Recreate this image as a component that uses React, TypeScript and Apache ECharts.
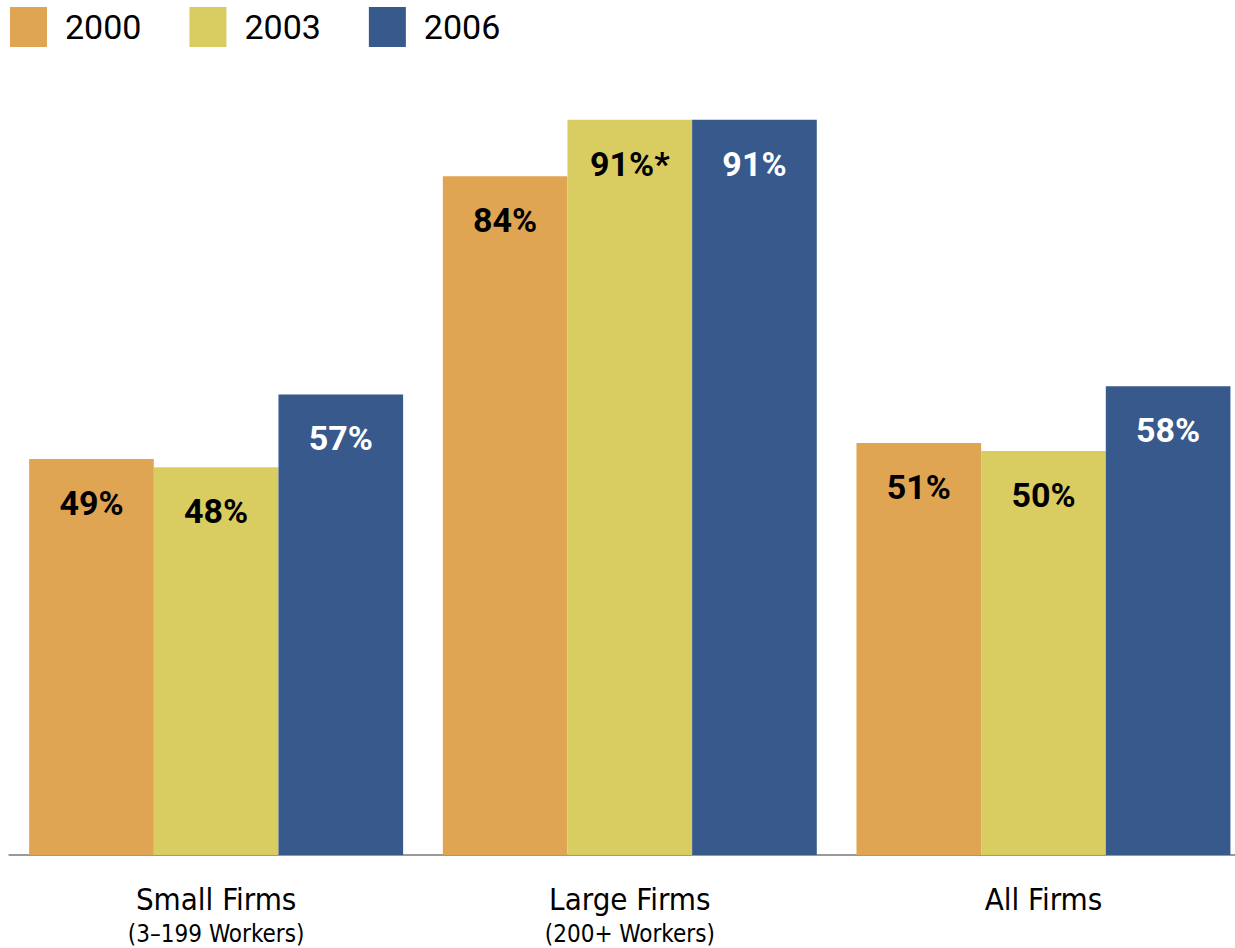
import React, { useEffect, useRef } from "react";
import * as echarts from "echarts";

const categories = ["Small Firms", "Large Firms", "All Firms"];
const subLabels = ["(3–199 Workers)", "(200+ Workers)", ""];
const seriesNames = ["2000", "2003", "2006"];
const values2000 = [49, 84, 51];
const values2003 = [48, 91, 50];
const values2006 = [57, 91, 58];
const labels2003 = ["48%", "91%*", "50%"];
const colors = ["#E0A552", "#D9CD62", "#37598C"];

export default function App() {
  const ref = useRef<HTMLDivElement>(null);
  useEffect(() => {
    if (!ref.current) return;
    const chart = echarts.init(ref.current, null, { renderer: "svg" });
    const valueFont = "Roboto, 'Liberation Sans', sans-serif";
    const axisFont = "'Liberation Sans Narrow', 'DejaVu Sans Condensed', Roboto, sans-serif";
    const mk = (name: string, data: number[], color: string, labelColor: string, texts?: string[]) => ({
      name,
      type: "bar",
      data,
      barGap: "0%",
      barCategoryGap: "9.6%",
      itemStyle: { color },
      label: {
        show: true,
        position: "insideTop",
        distance: 27,
        color: labelColor,
        fontFamily: valueFont,
        fontWeight: "bold",
        fontSize: 34,
        formatter: (p: any) => (texts ? texts[p.dataIndex] : p.value + "%"),
      },
    });
    chart.setOption({
      animation: false,
      legend: {
        left: 10,
        top: 7,
        padding: 0,
        itemWidth: 37,
        itemHeight: 40,
        itemGap: 48,
        icon: "rect",
        textStyle: { fontSize: 34, color: "#000", fontFamily: valueFont, padding: [0, 0, 0, 13] },
        data: seriesNames,
      },
      grid: { left: 9.3, right: 9.7, top: 47, bottom: 93, containLabel: false },
      xAxis: {
        type: "category",
        data: categories,
        axisLine: { lineStyle: { color: "#999999", width: 2 } },
        axisTick: { show: false },
        axisLabel: {
          margin: 26,
          interval: 0,
          formatter: (v: string, i: number) =>
            subLabels[i] ? `{a|${v}}\n{b|${subLabels[i]}}` : `{a|${v}}`,
          rich: {
            a: { fontSize: 31, fontFamily: axisFont, color: "#000", lineHeight: 36 },
            b: { fontSize: 24, fontFamily: axisFont, color: "#000", lineHeight: 34 },
          },
        },
      },
      yAxis: {
        type: "value",
        min: 0,
        max: 100,
        show: false,
        splitLine: { show: false },
      },
      series: [
        mk(seriesNames[0], values2000, colors[0], "#000"),
        mk(seriesNames[1], values2003, colors[1], "#000", labels2003),
        mk(seriesNames[2], values2006, colors[2], "#fff"),
      ],
    });
    return () => chart.dispose();
  }, []);
  return (
    <div style={{ position: "absolute", left: 0, top: 0, width: 1235, height: 948, overflow: "hidden" }}>
      <div ref={ref} style={{ position: "absolute", left: 0, top: 0, width: 1260, height: 948 }} />
    </div>
  );
}
